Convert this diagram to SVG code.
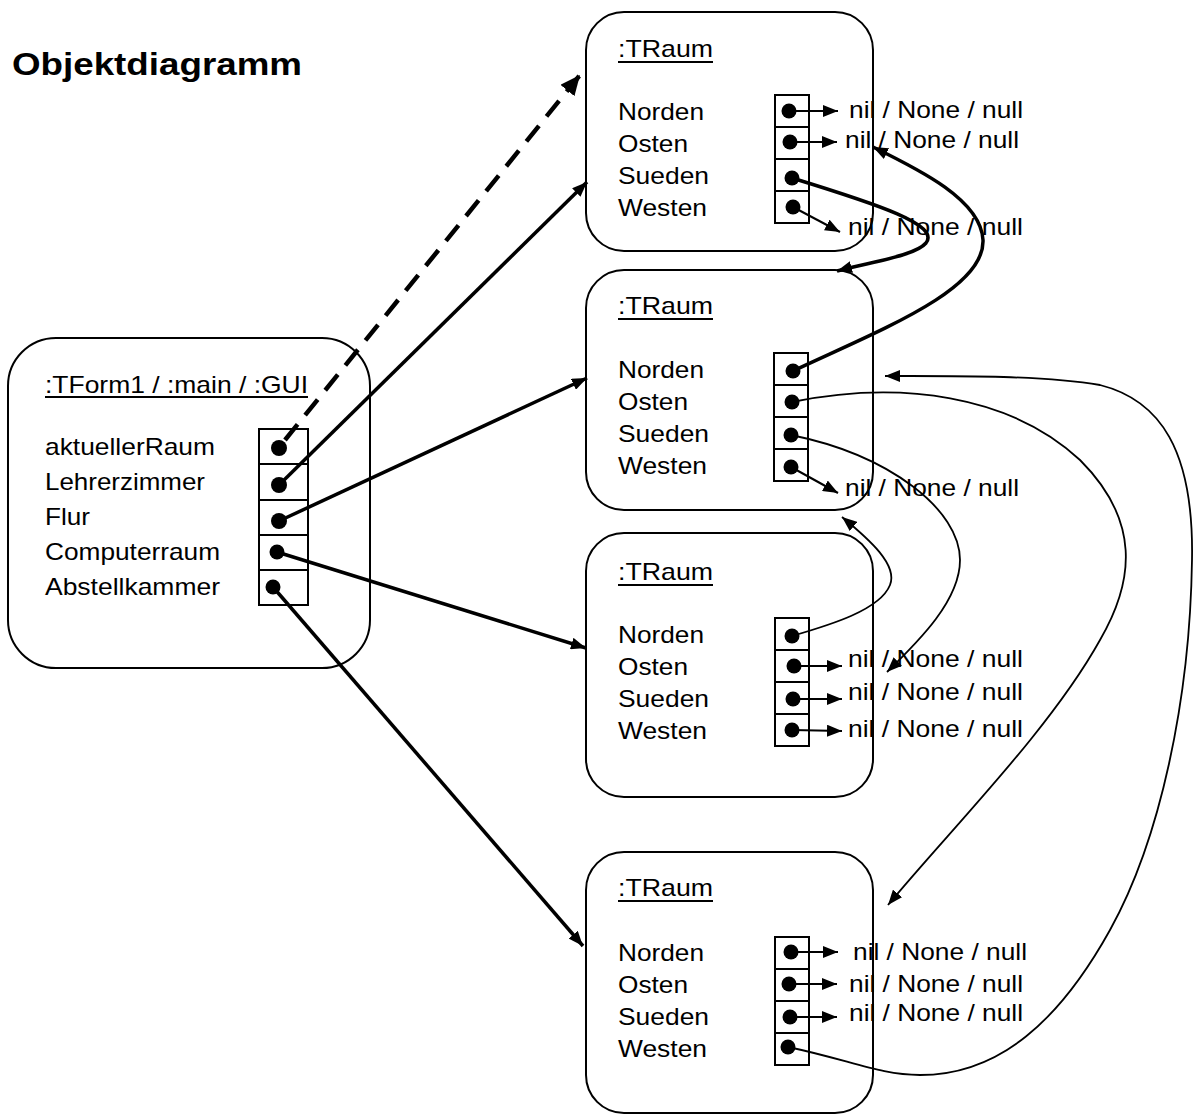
<svg xmlns="http://www.w3.org/2000/svg" width="1193" height="1115" viewBox="0 0 1193 1115">
<style>
text{font-family:"Liberation Sans",Arial,sans-serif;font-size:24px;fill:#000}
.title{font-weight:bold;font-size:32px}
.frame{fill:none;stroke:#000;stroke-width:2}
.cell{fill:none;stroke:#000;stroke-width:2}
.ul{stroke:#000;stroke-width:2}
.dot{fill:#000}
.short{fill:none;stroke:#000;stroke-width:2;marker-end:url(#ah)}
.thick{fill:none;stroke:#000;stroke-width:3.5;marker-end:url(#ah)}
.thin{fill:none;stroke:#000;stroke-width:1.8;marker-end:url(#ah)}
.dash{fill:none;stroke:#000;stroke-width:4.5;stroke-dasharray:20 12;marker-end:url(#ahd)}
</style>
<defs>
<marker id="ah" markerUnits="userSpaceOnUse" markerWidth="16" markerHeight="12" refX="15" refY="6" orient="auto"><path d="M0,0 L15,6 L0,12 z" fill="#000"/></marker>
<marker id="ahd" markerUnits="userSpaceOnUse" markerWidth="22" markerHeight="18" refX="20" refY="9" orient="auto"><path d="M0,0 L20,9 L0,18 z" fill="#000"/></marker>
</defs>
<rect width="1193" height="1115" fill="#fff"/>
<text class="title" x="12" y="75" textLength="290" lengthAdjust="spacingAndGlyphs">Objektdiagramm</text>

<g id="gui">
<rect class="frame" x="8" y="338" width="362" height="330" rx="48"/>
<text x="45" y="393" textLength="263" lengthAdjust="spacingAndGlyphs">:TForm1 / :main / :GUI</text>
<line class="ul" x1="45" y1="397" x2="308" y2="397"/>
<text x="45" y="455" textLength="170" lengthAdjust="spacingAndGlyphs">aktuellerRaum</text>
<text x="45" y="490" textLength="160" lengthAdjust="spacingAndGlyphs">Lehrerzimmer</text>
<text x="45" y="525" textLength="45" lengthAdjust="spacingAndGlyphs">Flur</text>
<text x="45" y="560" textLength="175" lengthAdjust="spacingAndGlyphs">Computerraum</text>
<text x="45" y="595" textLength="175" lengthAdjust="spacingAndGlyphs">Abstellkammer</text>
<rect class="cell" x="259" y="429" width="49" height="35"/>
<rect class="cell" x="259" y="464" width="49" height="36"/>
<rect class="cell" x="259" y="500" width="49" height="35"/>
<rect class="cell" x="259" y="535" width="49" height="35"/>
<rect class="cell" x="259" y="570" width="49" height="35"/>
<circle class="dot" cx="279" cy="448" r="8"/>
<circle class="dot" cx="279" cy="485" r="8"/>
<circle class="dot" cx="279" cy="521" r="8"/>
<circle class="dot" cx="277" cy="552" r="7.5"/>
<circle class="dot" cx="273" cy="587" r="7.5"/>
</g>

<g id="raum1">
<rect class="frame" x="586" y="12" width="287" height="239" rx="38"/>
<text x="618" y="57" textLength="95" lengthAdjust="spacingAndGlyphs">:TRaum</text>
<line class="ul" x1="618" y1="62" x2="713" y2="62"/>
<text x="618" y="120" textLength="86" lengthAdjust="spacingAndGlyphs">Norden</text>
<text x="618" y="152" textLength="70" lengthAdjust="spacingAndGlyphs">Osten</text>
<text x="618" y="184" textLength="91" lengthAdjust="spacingAndGlyphs">Sueden</text>
<text x="618" y="216" textLength="89" lengthAdjust="spacingAndGlyphs">Westen</text>
<rect class="cell" x="775" y="95" width="34" height="32"/>
<rect class="cell" x="775" y="127" width="34" height="32"/>
<rect class="cell" x="775" y="159" width="34" height="32"/>
<rect class="cell" x="775" y="191" width="34" height="32"/>
<circle class="dot" cx="789" cy="111" r="7.5"/>
<circle class="dot" cx="790" cy="142" r="7.5"/>
<circle class="dot" cx="792" cy="178" r="7.5"/>
<circle class="dot" cx="793" cy="207" r="7.5"/>
</g>

<g id="raum2">
<rect class="frame" x="586" y="270" width="287" height="240" rx="38"/>
<text x="618" y="314" textLength="95" lengthAdjust="spacingAndGlyphs">:TRaum</text>
<line class="ul" x1="618" y1="319" x2="713" y2="319"/>
<text x="618" y="378" textLength="86" lengthAdjust="spacingAndGlyphs">Norden</text>
<text x="618" y="410" textLength="70" lengthAdjust="spacingAndGlyphs">Osten</text>
<text x="618" y="442" textLength="91" lengthAdjust="spacingAndGlyphs">Sueden</text>
<text x="618" y="474" textLength="89" lengthAdjust="spacingAndGlyphs">Westen</text>
<rect class="cell" x="774" y="353" width="34" height="32"/>
<rect class="cell" x="774" y="385" width="34" height="32"/>
<rect class="cell" x="774" y="417" width="34" height="32"/>
<rect class="cell" x="774" y="449" width="34" height="32"/>
<circle class="dot" cx="793" cy="371" r="7.5"/>
<circle class="dot" cx="792" cy="402" r="7.5"/>
<circle class="dot" cx="791" cy="435" r="7.5"/>
<circle class="dot" cx="791" cy="467" r="7.5"/>
</g>

<g id="raum3">
<rect class="frame" x="586" y="533" width="287" height="264" rx="38"/>
<text x="618" y="580" textLength="95" lengthAdjust="spacingAndGlyphs">:TRaum</text>
<line class="ul" x1="618" y1="585" x2="713" y2="585"/>
<text x="618" y="643" textLength="86" lengthAdjust="spacingAndGlyphs">Norden</text>
<text x="618" y="675" textLength="70" lengthAdjust="spacingAndGlyphs">Osten</text>
<text x="618" y="707" textLength="91" lengthAdjust="spacingAndGlyphs">Sueden</text>
<text x="618" y="739" textLength="89" lengthAdjust="spacingAndGlyphs">Westen</text>
<rect class="cell" x="775" y="618" width="34" height="32"/>
<rect class="cell" x="775" y="650" width="34" height="32"/>
<rect class="cell" x="775" y="682" width="34" height="32"/>
<rect class="cell" x="775" y="714" width="34" height="32"/>
<circle class="dot" cx="792" cy="636" r="7.5"/>
<circle class="dot" cx="794" cy="666" r="7.5"/>
<circle class="dot" cx="793" cy="699" r="7.5"/>
<circle class="dot" cx="792" cy="730" r="7.5"/>
</g>

<g id="raum4">
<rect class="frame" x="586" y="852" width="287" height="261" rx="38"/>
<text x="618" y="896" textLength="95" lengthAdjust="spacingAndGlyphs">:TRaum</text>
<line class="ul" x1="618" y1="901" x2="713" y2="901"/>
<text x="618" y="961" textLength="86" lengthAdjust="spacingAndGlyphs">Norden</text>
<text x="618" y="993" textLength="70" lengthAdjust="spacingAndGlyphs">Osten</text>
<text x="618" y="1025" textLength="91" lengthAdjust="spacingAndGlyphs">Sueden</text>
<text x="618" y="1057" textLength="89" lengthAdjust="spacingAndGlyphs">Westen</text>
<rect class="cell" x="775" y="937" width="34" height="32"/>
<rect class="cell" x="775" y="969" width="34" height="32"/>
<rect class="cell" x="775" y="1001" width="34" height="32"/>
<rect class="cell" x="775" y="1033" width="34" height="32"/>
<circle class="dot" cx="791" cy="952" r="7.5"/>
<circle class="dot" cx="789" cy="984" r="7.5"/>
<circle class="dot" cx="790" cy="1017" r="7.5"/>
<circle class="dot" cx="788" cy="1047" r="7.5"/>
</g>

<g id="nil-labels">
<text x="849" y="118" textLength="174" lengthAdjust="spacingAndGlyphs">nil / None / null</text>
<text x="845" y="148" textLength="174" lengthAdjust="spacingAndGlyphs">nil / None / null</text>
<text x="848" y="235" textLength="175" lengthAdjust="spacingAndGlyphs">nil / None / null</text>
<text x="845" y="496" textLength="174" lengthAdjust="spacingAndGlyphs">nil / None / null</text>
<text x="848" y="667" textLength="175" lengthAdjust="spacingAndGlyphs">nil / None / null</text>
<text x="848" y="700" textLength="175" lengthAdjust="spacingAndGlyphs">nil / None / null</text>
<text x="848" y="737" textLength="175" lengthAdjust="spacingAndGlyphs">nil / None / null</text>
<text x="853" y="960" textLength="174" lengthAdjust="spacingAndGlyphs">nil / None / null</text>
<text x="849" y="992" textLength="174" lengthAdjust="spacingAndGlyphs">nil / None / null</text>
<text x="849" y="1021" textLength="174" lengthAdjust="spacingAndGlyphs">nil / None / null</text>
</g>

<g id="connectors">
<path class="dash" d="M285,440 L580,75"/>
<path class="thick" d="M279,485 L587,182"/>
<path class="thick" d="M279,521 L587,378"/>
<path class="thick" d="M277,552 L586,648"/>
<path class="thick" d="M273,587 L583,946"/>

<path class="short" d="M789,111 L838,111"/>
<path class="short" d="M790,142 L837,142"/>
<path class="short" d="M793,207 L840,232"/>
<path class="short" d="M791,467 L838,493"/>
<path class="short" d="M794,666 L842,666"/>
<path class="short" d="M793,699 L842,699"/>
<path class="short" d="M792,730 L842,731"/>
<path class="short" d="M791,952 L838,952"/>
<path class="short" d="M789,984 L837,984"/>
<path class="short" d="M790,1017 L837,1017"/>

<path class="thick" d="M792,178 C880,205 940,225 926,243 C915,256 870,262 837,271"/>
<path class="thick" d="M793,371 C880,330 985,290 983,240 C981,200 920,170 873,147"/>

<path class="thin" d="M792,402 C900,380 1010,395 1080,460 C1140,520 1135,580 1100,640 C1050,730 950,830 888,905"/>
<path class="thin" d="M791,435 C890,455 960,510 960,560 C960,600 920,640 887,672"/>
<path class="thin" d="M792,636 C830,625 880,610 890,585 C898,565 870,540 842,517"/>
<path class="thin" d="M788,1047 C850,1060 880,1075 920,1075 C1000,1075 1060,1020 1110,930 C1160,840 1190,700 1192,560 C1194,450 1160,400 1100,385 C1040,375 950,376 885,376"/>
</g>
</svg>
